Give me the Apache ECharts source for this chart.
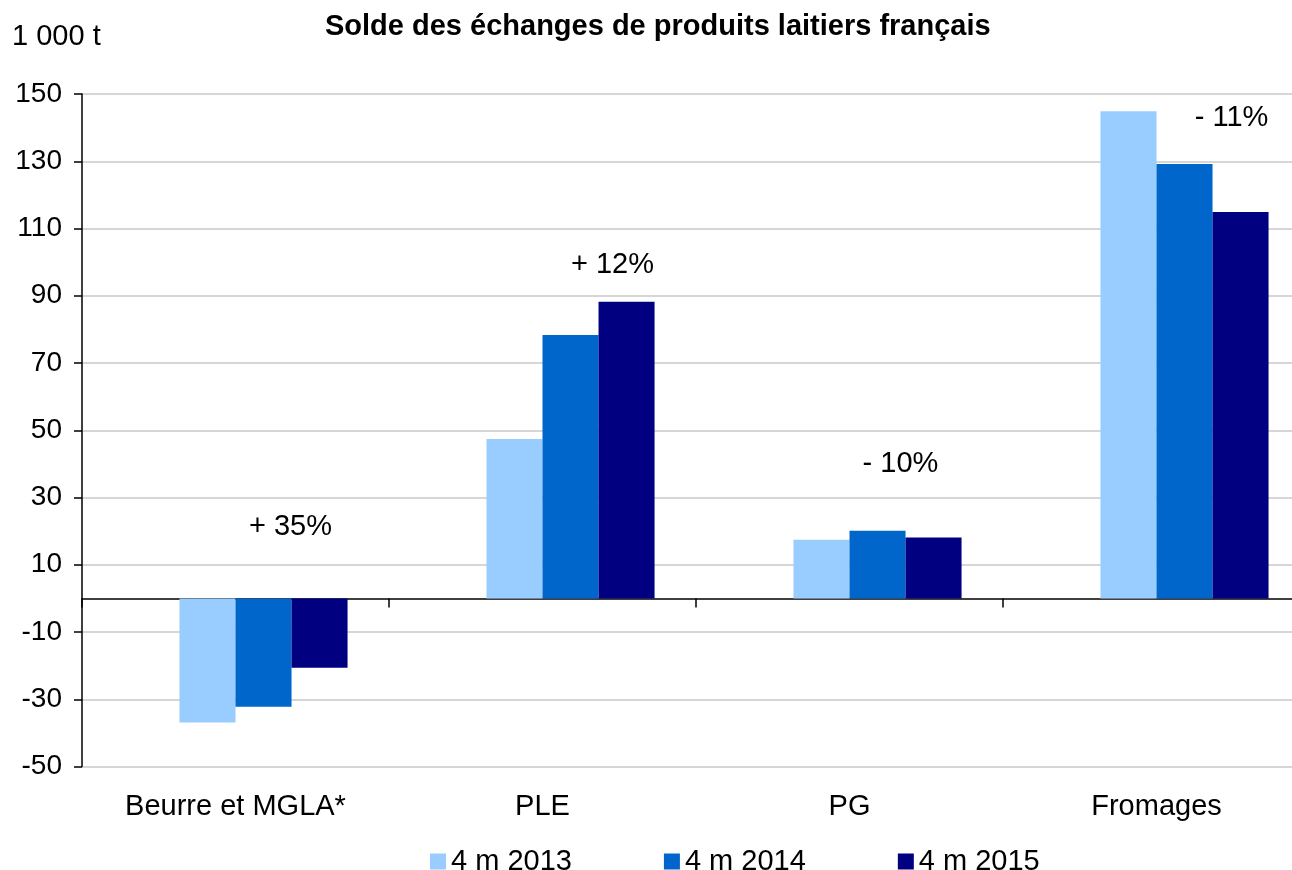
<!DOCTYPE html>
<html>
<head>
<meta charset="utf-8">
<script src="https://cdn.jsdelivr.net/npm/echarts@6/dist/echarts.min.js"></script>
<style>html,body{margin:0;padding:0;background:#fff;overflow:hidden}#c{width:1312px;height:870px}</style>
</head>
<body>
<div id="c"></div>
<script>
var categories = ['Beurre et MGLA*', 'PLE', 'PG', 'Fromages'];
var seriesNames = ['4 m 2013', '4 m 2014', '4 m 2015'];
var s2013 = [-36.9, 47.4, 17.4, 144.9];
var s2014 = [-32.2, 78.3, 20.1, 129.2];
var s2015 = [-20.6, 88.2, 18.1, 114.9];
var emptySlot = [null, null, null, null];
var changeLabels = ['+ 35%', '+ 12%', '- 10%', '- 11%'];
var changeLabelY = [21.3, 99.2, 40, 142.9];
var changeLabelDx = [55, 70, 51, 75];
var colors = ['#99CCFF', '#0066CC', '#000080'];
var FONT = 'Arial, "Liberation Sans", sans-serif';
var FS = 29;

var chart = echarts.init(document.getElementById('c'), null, {renderer: 'canvas'});

var series = [{
  name: 'empty', type: 'bar', data: emptySlot, barGap: '0%', barCategoryGap: '27%'
}];
var vals = [s2013, s2014, s2015];
for (var i = 0; i < 3; i++) {
  series.push({name: seriesNames[i], type: 'bar', data: vals[i], itemStyle: {color: colors[i]}, barGap: '0%', barCategoryGap: '27%'});
}
series.push({
  name: 'variation', type: 'scatter', symbolSize: 0, silent: true, z: 10,
  itemStyle: {opacity: 1, color: '#000'},
  data: categories.map(function (c, i) {
    return {value: [c, changeLabelY[i]], name: changeLabels[i], label: {offset: [changeLabelDx[i], 0]}};
  }),
  label: {show: true, position: 'inside', formatter: '{b}', color: '#000', textBorderWidth: 0,
          textBorderColor: 'transparent', fontSize: FS, fontFamily: FONT}
});

chart.setOption({
  animation: false,
  textStyle: {fontFamily: FONT},
  title: [
    {text: 'Solde des échanges de produits laitiers français', left: 325, top: 12, padding: 0,
     textStyle: {fontSize: FS, fontWeight: 'bold', color: '#000', fontFamily: FONT}},
    {text: '1 000 t', left: 12, top: 22, padding: 0,
     textStyle: {fontSize: FS, fontWeight: 'normal', color: '#000', fontFamily: FONT}}
  ],
  legend: {
    data: seriesNames, left: 425, top: 842, icon: 'rect', itemWidth: 16, itemHeight: 16, itemGap: 92,
    textStyle: {fontSize: FS, color: '#000', fontFamily: FONT}
  },
  grid: {left: 82, top: 94, right: 2, bottom: 103.5, containLabel: false},
  xAxis: [{
    type: 'category', data: categories, position: 'bottom',
    axisLine: {onZero: true, lineStyle: {color: '#000', width: 1.5}},
    axisTick: {show: true, length: 9, lineStyle: {color: '#000', width: 1.5}},
    axisLabel: {show: false}, splitLine: {show: false}
  }, {
    type: 'category', data: categories, position: 'bottom',
    axisLine: {show: false, onZero: false}, axisTick: {show: false},
    axisLabel: {show: true, margin: 26, fontSize: FS, color: '#000', fontFamily: FONT}
  }],
  yAxis: {
    type: 'value', min: -50, max: 150, interval: 20,
    axisLine: {show: true, lineStyle: {color: '#000', width: 1.5}},
    axisTick: {show: true, length: 8, lineStyle: {color: '#000', width: 1.5}},
    axisLabel: {margin: 20, fontSize: 28, color: '#000', fontFamily: FONT},
    splitLine: {show: true, lineStyle: {color: '#c8c8c8', width: 1.5}}
  },
  series: series
});
</script>
</body>
</html>
